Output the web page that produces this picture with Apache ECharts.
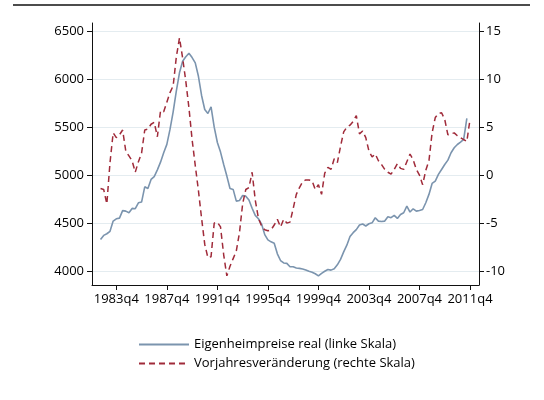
<!DOCTYPE html>
<html>
<head>
<meta charset="utf-8">
<script src="https://cdn.jsdelivr.net/npm/echarts@6/dist/echarts.min.js"></script>
<style>
  html, body { margin: 0; padding: 0; background: #fff; }
  #chart { width: 544px; height: 400px; }
</style>
</head>
<body>
<div id="chart"></div>
<script>
// Quartalsdaten ab 1982q3 (Index: Quartale seit 1960q1)
const startQuarter = 90;
const eigenheimpreise = [
  4330, 4372, 4389, 4415, 4521, 4545, 4552, 4630, 4625, 4608,
  4653, 4650, 4712, 4719, 4878, 4860, 4955, 4985, 5055, 5135,
  5233, 5320, 5476, 5660, 5875, 6066, 6187, 6233, 6270, 6225,
  6170, 6030, 5830, 5684, 5642, 5712, 5500, 5340, 5240, 5110,
  4990, 4860, 4851, 4729, 4736, 4788, 4781, 4740, 4655, 4580,
  4545, 4490, 4380, 4325, 4305, 4290, 4180, 4110, 4085, 4080,
  4045, 4045, 4032, 4028, 4022, 4012, 3998, 3988, 3972, 3950,
  3976, 3998, 4017, 4010, 4024, 4065, 4122, 4200, 4270, 4360,
  4400, 4432, 4480, 4490, 4470, 4493, 4503, 4556, 4521, 4517,
  4521, 4566, 4556, 4580, 4549, 4590, 4608, 4677, 4615, 4649,
  4625, 4632, 4642, 4712, 4799, 4913, 4938, 5007, 5059, 5111,
  5156, 5233, 5285, 5319, 5344, 5372, 5590
];
const vorjahresveraenderung = [
  -1.4, -1.5, -3.0, 1.3, 4.4, 3.9, 4.2, 4.7, 2.5, 2.0,
  1.5, 0.3, 1.4, 2.3, 4.7, 4.8, 5.3, 5.5, 4.0, 6.7,
  6.6, 7.6, 8.6, 9.3, 12.3, 14.3, 12.2, 9.8, 7.0, 3.7,
  1.0, -1.6, -4.5, -7.2, -8.6, -8.5, -5.0, -4.9, -5.4, -8.3,
  -10.5, -9.5, -8.7, -7.9, -6.0, -3.0, -1.5, -1.3, 0.3, -2.6,
  -4.5, -5.3, -5.7, -5.8, -5.7, -5.2, -4.6, -5.4, -4.6, -5.0,
  -4.9, -3.5, -2.0, -1.3, -0.7, -0.5, -0.5, -0.6, -1.5, -1.0,
  -2.0, 0.2, 0.8, 0.6, 1.7, 1.3, 3.0, 4.5, 5.0, 5.2,
  5.6, 6.2, 4.3, 4.6, 3.9, 2.5, 1.9, 2.2, 1.5, 1.1,
  0.6, 0.3, 0.1, 0.6, 1.2, 0.7, 0.6, 1.4, 2.2, 1.6,
  0.6, 0.0, -1.0, 0.5, 1.5, 4.4, 6.0, 6.4, 6.5, 5.8,
  4.2, 4.3, 4.4, 4.1, 3.9, 3.7, 3.5, 5.8
];
const xTicks = ['1983q4', '1987q4', '1991q4', '1995q4', '1999q4', '2003q4', '2007q4', '2011q4'];
const leftTicks = [4000, 4500, 5000, 5500, 6000, 6500];
const rightTicks = [-10, -5, 0, 5, 10, 15];

function toQuarter(label) {
  const y = parseInt(label.slice(0, 4), 10);
  const q = parseInt(label.slice(5), 10);
  return (y - 1960) * 4 + (q - 1);
}
function quarterLabel(t) {
  return (1960 + Math.floor(t / 4)) + 'q' + (t % 4 + 1);
}

const font = 'Open Sans';
const chart = echarts.init(document.getElementById('chart'));
const option = {
  animation: false,
  textStyle: { fontFamily: font },
  grid: { left: 92, right: 65, top: 23, bottom: 115 },
  graphic: [{
    type: 'line',
    shape: { x1: 13, y1: 5, x2: 530, y2: 5 },
    style: { stroke: '#111', lineWidth: 1.5 }
  }],
  legend: {
    orient: 'vertical',
    left: 133,
    top: 333,
    itemWidth: 50,
    itemHeight: 14,
    itemGap: 6,
    itemStyle: { opacity: 0 },
    textStyle: { fontFamily: font, fontSize: 13, color: '#000', padding: [0, 0, 0, 0] },
    data: ['Eigenheimpreise real (linke Skala)', 'Vorjahresveränderung (rechte Skala)']
  },
  xAxis: {
    type: 'value',
    min: 87.3,
    max: 209.85,
    axisLine: { onZero: false, lineStyle: { color: '#111', width: 1 } },
    axisTick: { length: 5, lineStyle: { color: '#111' }, customValues: xTicks.map(toQuarter) },
    axisLabel: {
      customValues: xTicks.map(toQuarter),
      formatter: v => quarterLabel(Math.round(v)),
      color: '#000', fontSize: 13, fontFamily: font, margin: 8
    },
    splitLine: { show: false }
  },
  yAxis: [{
    type: 'value',
    position: 'left',
    min: 3855,
    max: 6585,
    axisLine: { show: true, onZero: false, lineStyle: { color: '#111', width: 1 } },
    axisTick: { show: true, length: 5, lineStyle: { color: '#111' }, customValues: leftTicks },
    axisLabel: {
      customValues: leftTicks,
      formatter: v => String(Math.round(v)),
      color: '#000', fontSize: 13, fontFamily: font, margin: 8
    },
    splitLine: { show: true, lineStyle: { color: '#e4ecf0', width: 1 } }
  }, {
    type: 'value',
    position: 'right',
    min: -11.45,
    max: 15.85,
    axisLine: { show: true, onZero: false, lineStyle: { color: '#111', width: 1 } },
    axisTick: { show: true, length: 5, lineStyle: { color: '#111' }, customValues: rightTicks },
    axisLabel: {
      customValues: rightTicks,
      formatter: v => String(Math.round(v)),
      color: '#000', fontSize: 13, fontFamily: font, margin: 7
    },
    splitLine: { show: false }
  }],
  series: [{
    name: 'Eigenheimpreise real (linke Skala)',
    type: 'line',
    yAxisIndex: 0,
    symbol: 'none',
    lineStyle: { color: '#7b94ae', width: 1.6 },
    itemStyle: { color: '#7b94ae' },
    data: eigenheimpreise.map((v, i) => [startQuarter + i, v])
  }, {
    name: 'Vorjahresveränderung (rechte Skala)',
    type: 'line',
    yAxisIndex: 1,
    symbol: 'none',
    lineStyle: { color: '#a02b3a', width: 1.5, type: [6, 4] },
    itemStyle: { color: '#a02b3a' },
    data: vorjahresveraenderung.map((v, i) => [startQuarter + i, v])
  }]
};
chart.setOption(option);
</script>
</body>
</html>
